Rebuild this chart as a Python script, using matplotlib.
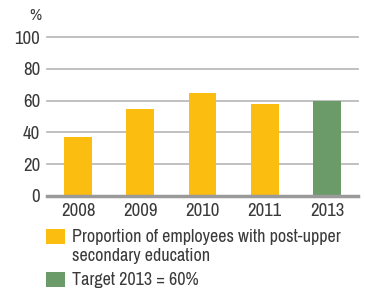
import matplotlib.pyplot as plt
from matplotlib.patches import Rectangle

# Data
years = ['2008', '2009', '2010', '2011', '2013']
values = [37, 55, 65, 58, 60]
bar_colors = ['#fbbd10', '#fbbd10', '#fbbd10', '#fbbd10', '#6b9b69']
legend_labels = ['Proportion of employees with post-upper\nsecondary education',
                 'Target 2013 = 60%']
legend_colors = ['#fbbd10', '#6b9b69']
yticks = [0, 20, 40, 60, 80, 100]

plt.rcParams['font.family'] = ['Archivo Narrow', 'Open Sans', 'DejaVu Sans']
txt = '#3a3a3a'

W, H = 365, 293
fig = plt.figure(figsize=(W / 100, H / 100), dpi=100)

def fx(px):
    return px / W

def fy(py):
    return 1 - py / H

# axes placed in pixel terms
ax = fig.add_axes([fx(47), fy(196), fx(358) - fx(47), fy(37) - fy(196)])
ax.bar(range(len(years)), values, width=0.45, color=bar_colors, zorder=3)
ax.set_xlim(-0.5, len(years) - 0.5)
ax.set_ylim(0, 100)
ax.set_yticks(yticks)
ax.set_xticks(range(len(years)))
ax.set_xticklabels(years)
for y in yticks[1:]:
    ax.axhline(y, color='#b5b5b5', lw=1.2, zorder=1, clip_on=False)
ax.axhline(0, color='#9a9a9a', lw=2.5, zorder=4, clip_on=False)
for s in ax.spines.values():
    s.set_visible(False)
ax.tick_params(length=0, labelsize=13.5, colors=txt)
ax.tick_params(axis='y', pad=5)
ax.tick_params(axis='x', pad=5)

fig.text(fx(35), fy(16), '%', ha='center', va='center', fontsize=12, color=txt)

# legend drawn by hand
box_y = [229, 272]
text_y = [229, 280]
for lab, col, by, ty in zip(legend_labels, legend_colors, box_y, text_y):
    fig.add_artist(Rectangle((fx(46), fy(by + 15)), fx(19), fy(by) - fy(by + 15),
                             transform=fig.transFigure, color=col, lw=0))
    fig.text(fx(72), fy(ty), lab, ha='left', va='top' if '\n' in lab else 'center',
             fontsize=13, color=txt, linespacing=1.2)

fig.savefig('out.png', dpi=100)
